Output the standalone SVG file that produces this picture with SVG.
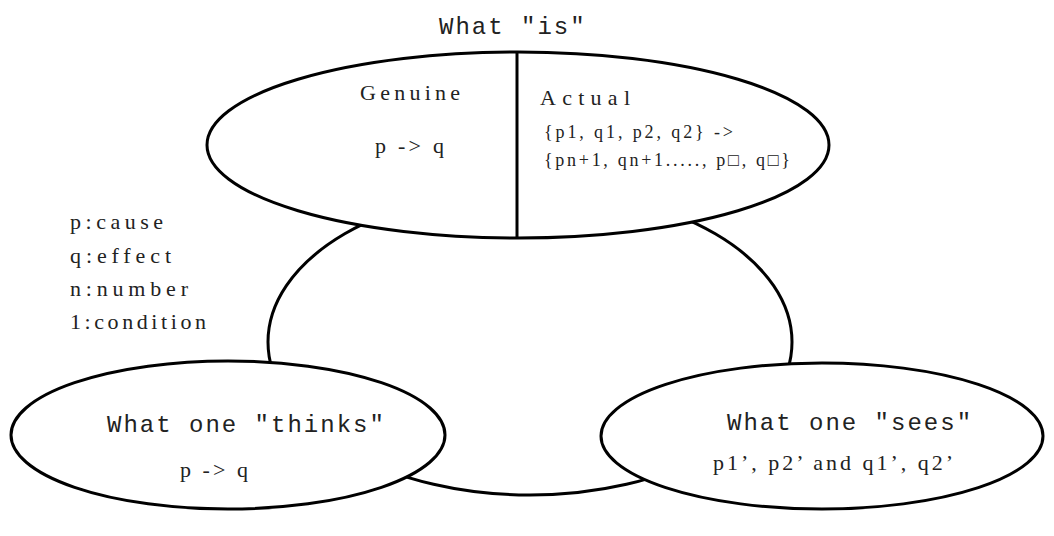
<svg xmlns="http://www.w3.org/2000/svg" width="1054" height="536" viewBox="0 0 1054 536">
<style>
.e{fill:#fff;stroke:#000;stroke-width:3}
.m{font-family:"Liberation Mono","Courier New",monospace;font-size:24px;letter-spacing:2px;fill:#222}
.s{font-family:"Liberation Serif","Times New Roman",serif;font-size:22px;fill:#222}
.t{font-family:"Liberation Serif","Times New Roman",serif;font-size:18px;fill:#222}
</style>
<rect width="1054" height="536" fill="#fff"/>
<g id="center">
<ellipse class="e" cx="530" cy="342" rx="262" ry="153"/>
</g>
<g id="what-is">
<ellipse class="e" cx="518" cy="145" rx="311" ry="93"/>
<line x1="517" y1="52" x2="517" y2="238" stroke="#000" stroke-width="3"/>
<text class="m" x="439" y="34">What "is"</text>
<text class="s" x="360" y="100" font-size="23" textLength="100" lengthAdjust="spacing">Genuine</text>
<text class="s" x="375" y="153" textLength="69" lengthAdjust="spacing">p -&gt; q</text>
<text class="s" x="540" y="105" font-size="23" textLength="90" lengthAdjust="spacing">Actual</text>
<text class="t" x="544" y="138" textLength="189" lengthAdjust="spacing">{p1, q1, p2, q2} -&gt;</text>
<text class="t" x="544" y="166" textLength="246" lengthAdjust="spacing">{pn+1, qn+1....., p□, q□}</text>
</g>
<g id="legend">
<text class="s" x="70" y="229" textLength="93" lengthAdjust="spacing">p:cause</text>
<text class="s" x="70" y="263" textLength="101" lengthAdjust="spacing">q:effect</text>
<text class="s" x="70" y="296" textLength="118" lengthAdjust="spacing">n:number</text>
<text class="s" x="70" y="329" textLength="136" lengthAdjust="spacing">1:condition</text>
</g>
<g id="what-one-thinks">
<ellipse class="e" cx="228" cy="435" rx="217" ry="74"/>
<text class="m" x="107" y="432">What one "thinks"</text>
<text class="s" x="180" y="477" textLength="68" lengthAdjust="spacing">p -&gt; q</text>
</g>
<g id="what-one-sees">
<ellipse class="e" cx="822" cy="436" rx="221" ry="73"/>
<text class="m" x="727" y="430">What one "sees"</text>
<text class="s" x="713" y="470" textLength="240" lengthAdjust="spacing">p1’, p2’ and q1’, q2’</text>
</g>
<g id="connectors"/>
</svg>
